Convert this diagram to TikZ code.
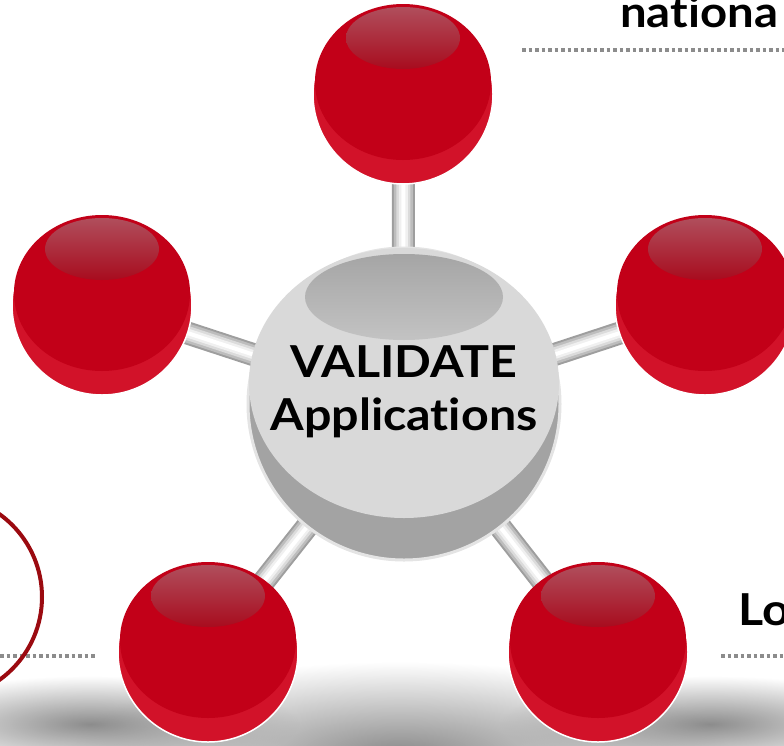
\documentclass[tikz,border=0pt]{standalone}
\usepackage{fontspec}
\usetikzlibrary{fadings}
\setmainfont[Ligatures=NoCommon]{Lato}
\newfontfamily\widefont[Ligatures=NoCommon, FakeStretch=1.1]{Lato}
\definecolor{redlight}{RGB}{210,18,41}
\definecolor{reddark}{RGB}{194,0,24}
\definecolor{redhitop}{RGB}{176,78,92}
\definecolor{redhibot}{RGB}{168,12,30}
\definecolor{ringred}{RGB}{155,10,16}
\definecolor{dotgray}{RGB}{140,140,140}
\definecolor{ballshade}{RGB}{163,163,163}
\definecolor{ballrim}{RGB}{228,228,228}
\definecolor{ballface}{RGB}{217,217,217}
\definecolor{hitop}{RGB}{165,165,165}
\definecolor{hibot}{RGB}{195,195,195}
\definecolor{shadowgray}{RGB}{120,120,120}
\tikzfading[name=softell, inner color=transparent!15, outer color=transparent!100]
\tikzset{
  redsphere/.pic={
    \fill[redlight, draw=white, line width=1.5pt] (0,0) circle (90pt);
    \fill[reddark] (0,-12) ellipse [x radius=88pt, y radius=78pt];
    \shade[top color=redhitop, bottom color=redhibot] (0,-56) ellipse [x radius=57pt, y radius=31pt];
  },
  ballnode/.style={circle, minimum size=180pt, inner sep=0pt},
  rod1/.style={line width=23pt, draw=black!38},
  rod2/.style={line width=19pt, draw=black!26},
  rod3/.style={line width=14pt, draw=black!14},
  rod4/.style={line width=9pt, draw=black!6},
  rod5/.style={line width=4pt, draw=white},
  dotline/.style={draw=dotgray, line width=3.5pt, dash pattern=on 3.5pt off 3pt},
  bigtext/.style={font=\widefont\fontsize{44}{52}\selectfont\bfseries, inner sep=0pt},
}
\begin{document}
\begin{tikzpicture}[x=1pt,y=-1pt]
\useasboundingbox (0,0) rectangle (784,745);
\clip (0,0) rectangle (784,745);
% shadow
\fill[shadowgray, path fading=softell] (400,752) ellipse [x radius=330pt, y radius=90pt];
\fill[shadowgray, path fading=softell] (90,724) ellipse [x radius=210pt, y radius=48pt];
\fill[shadowgray, path fading=softell] (710,724) ellipse [x radius=210pt, y radius=48pt];
% nodes
\node[ballnode] (c) at (404,404) {};
\node[ballnode] (n1) at (403,94) {};
\node[ballnode] (n2) at (102,305) {};
\node[ballnode] (n3) at (705,305) {};
\node[ballnode] (n4) at (208,652) {};
\node[ballnode] (n5) at (598,652) {};
% rods
\foreach \n in {n1,n2,n3,n4,n5}{
  \draw[rod1] (\n.center) -- (c.center);
  \draw[rod2] (\n.center) -- (c.center);
  \draw[rod3] (\n.center) -- (c.center);
  \draw[rod4] (\n.center) -- (c.center);
  \draw[rod5] (\n.center) -- (c.center);
}
% center sphere
\fill[ballshade, draw=ballrim, line width=3pt] (c.center) circle (156pt);
\fill[ballface] (404,383) ellipse [x radius=155pt, y radius=135pt];
\shade[top color=hitop, bottom color=hibot] (404,297) ellipse [x radius=99pt, y radius=43pt];
% red spheres
\foreach \n in {n1,n2,n3,n4,n5}{
  \pic at (\n.center) {redsphere};
}
% center text
\node[bigtext, anchor=base] (t1) at (404,377) {VALIDATE};
\node[bigtext, anchor=base] (t2) at (404,430) {Applications};
% side texts
\node[font=\widefont\fontsize{43}{48}\selectfont\bfseries, anchor=base west, inner sep=0pt] (tn) at (620,27) {nationa};
\node[font=\widefont\fontsize{44}{50}\selectfont\bfseries, anchor=base west, inner sep=0pt] (tl) at (738,625) {Lo};
% dotted lines
\coordinate (d1a) at (522,50); \coordinate (d1b) at (784,50);
\coordinate (d2a) at (0,656); \coordinate (d2b) at (97,656);
\coordinate (d3a) at (721,656); \coordinate (d3b) at (784,656);
\draw[dotline] (d1a) -- (d1b);
\draw[dotline] (d2a) -- (d2b);
\draw[dotline] (d3a) -- (d3b);
% red ring
\coordinate (ring) at (-60,597);
\draw[ringred, line width=4pt] (ring) circle (102pt);
\end{tikzpicture}
\end{document}
